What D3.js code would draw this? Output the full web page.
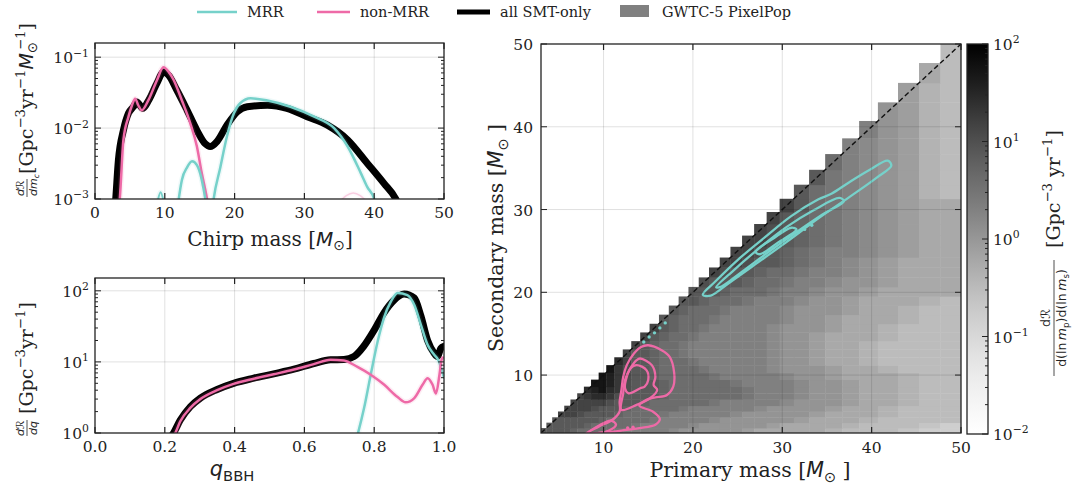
<!DOCTYPE html>
<html>
<head>
<meta charset="utf-8">
<script src="https://cdn.jsdelivr.net/npm/d3@7"></script>
<style>
body { margin: 0; background: #fff; }
text { font-family: "DejaVu Serif", serif; fill: #222; }
</style>
</head>
<body>
<svg></svg>
<script>
// ---------------- data ----------------
// chirp mass spectrum [Mc, dR/dMc]
const chirpAll = [[2.8,0.0006],[2.97,0.001],[3.35,0.0035],[4.07,0.0093],[4.8,0.0162],[5.5,0.020],[5.99,0.0234],[6.85,0.019],[7.67,0.0245],[8.86,0.0427],[9.81,0.0617],[10.5,0.0562],[11.7,0.0347],[13.2,0.0178],[14.6,0.0093],[15.8,0.006],[16.5,0.0055],[17.5,0.0065],[18.9,0.011],[20.4,0.017],[21.8,0.020],[24.7,0.021],[27.5,0.019],[30.4,0.0145],[33.3,0.011],[36.2,0.0068],[39.0,0.0032],[41.4,0.00166],[43.1,0.001],[43.8,0.0007]];
const chirpNon = [[3.4,0.0007],[3.55,0.001],[4.07,0.0068],[4.8,0.0145],[5.3,0.021],[5.75,0.026],[6.2,0.021],[6.7,0.0178],[7.67,0.025],[8.86,0.047],[9.81,0.072],[10.5,0.063],[11.25,0.048],[12.45,0.0245],[13.65,0.0117],[14.6,0.0055],[15.3,0.0023],[16.05,0.001],[16.3,0.0007]];
const chirpNonTail = [[35.0,0.0009],[36.0,0.00112],[37.0,0.00122],[38.0,0.00112],[39.0,0.0009]];
const chirpMrr = [[16.8,0.0007],[17.0,0.001],[17.96,0.0028],[18.9,0.0076],[19.9,0.0162],[20.8,0.0224],[22.3,0.0263],[24.7,0.0245],[28.0,0.020],[31.4,0.0145],[34.25,0.010],[36.2,0.0055],[38.1,0.0023],[39.0,0.00148],[40.0,0.001],[40.3,0.0007]];
const chirpMrrBump = [[11.8,0.0007],[12.0,0.001],[12.45,0.00186],[13.2,0.0028],[13.9,0.0034],[14.6,0.003],[15.3,0.00186],[15.8,0.001],[16.0,0.0007]];
const chirpMrrSpike = [[9.0,0.00095],[9.4,0.00125],[9.8,0.00095]];

// mass-ratio spectrum [q, dR/dq]
const qAll = [[0.215,0.85],[0.225,1.0],[0.244,1.51],[0.273,2.34],[0.302,3.1],[0.35,4.1],[0.397,5.0],[0.455,5.9],[0.512,6.8],[0.57,7.9],[0.627,9.5],[0.675,10.7],[0.713,10.8],[0.742,11.9],[0.77,16.6],[0.80,28],[0.828,49],[0.857,74],[0.886,90],[0.915,79],[0.934,44],[0.953,20],[0.972,13.2],[0.981,11.9],[0.991,15.5],[1.0,16.6]];
const qNon = [[0.22,0.85],[0.23,1.0],[0.244,1.45],[0.273,2.25],[0.302,3.0],[0.35,4.0],[0.397,4.9],[0.455,5.8],[0.512,6.7],[0.57,7.8],[0.627,9.3],[0.675,10.7],[0.713,10.5],[0.752,8.5],[0.79,6.6],[0.828,4.8],[0.867,3.2],[0.89,2.7],[0.915,3.1],[0.939,4.8],[0.953,5.9],[0.967,4.8],[0.977,3.6],[0.987,6.6],[0.993,10.7],[0.997,11.5]];
const qMrr = [[0.745,0.7],[0.752,0.93],[0.771,2.24],[0.79,6.6],[0.81,19.5],[0.828,41.7],[0.848,70.8],[0.867,93],[0.895,87],[0.915,63],[0.934,33],[0.953,17.4],[0.972,12.6],[0.983,10.7],[0.995,7.4],[1.0,6.0]];

// PixelPop heat map: bin edges (Msun) and per-cell level index (row j = m2 bin, first char is m1 bin i = j)
const massEdges = [3.0,3.6,4.25,4.9,5.6,6.3,7.05,7.8,8.6,9.45,10.3,11.2,12.15,13.1,14.1,15.15,16.2,17.3,18.4,19.5,20.65,21.8,23.0,24.2,25.5,26.85,28.25,29.7,31.3,33.0,34.8,36.7,38.6,40.7,42.95,45.3,47.7,50.0];
const levelLog = [-0.80,-0.66,-0.52,-0.38,-0.24,-0.10,0.04,0.18,0.32,0.46,0.60,0.74,0.88,1.02,1.16,1.30,1.44,1.58,1.72];
const heatRows = [
"CCCCCBAAAAA98888876666665444443222100",
"CCCCCCBAAAAA988888766666654444322210",
"CCCCCCCBAAAAA9888887666666544432222",
"EEEDCCCCBAAAA988888876666654443222",
"EEEEDCCCBAAAAA9888888766665443222",
"EEEEEDCCCBAAAAAA9888887666544322",
"EFGGFDCCCCBAAAAAAA9888766544322",
"GHIGFDCCCBAAAAAAA9888766544322",
"IIHFDCCCBAAAAAA98888766544322",
"IHFDCCBAAAAA9888887665444322",
"IFDCCBAAAA98888876665443222",
"GECCBAAA988888876654432222",
"ECCBAA9888888876654432222",
"ECBAA9888888876654432222",
"ECBAA988888876654443222",
"ECBAA98888876665443222",
"CBAAA9888887665444322",
"CBAAA988887666544322",
"CCBAAA9888766544432",
"CCCBAAA98876654444",
"DCCCBAA9887665444",
"EDCCBAA988765444",
"EEDCCBA98765444",
"EEDCBA98876544",
"EEDCBA9876544",
"EDCBA9876544",
"ECBA9876544",
"ECA9876544",
"CA9876532",
"C9876532",
"A876532",
"876532",
"86532",
"6532",
"532",
"42",
"2"
];

// 2D contours [m1, m2]
const mrrOuter = [[21.1,19.7],[22.5,21.3],[25.0,23.9],[28.0,26.6],[31.0,29.2],[34.0,31.2],[35.5,31.9],[37.5,33.3],[39.8,34.8],[41.8,35.9],[42.2,35.3],[40.5,33.8],[37.5,31.5],[34.0,28.9],[30.5,26.1],[27.0,23.4],[24.0,21.1],[22.0,19.6]];
const mrrMid = [[22.6,20.6],[24.5,22.6],[27.5,25.4],[30.5,27.9],[33.5,29.9],[36.4,31.4],[36.9,31.0],[34.5,29.4],[31.5,27.2],[28.5,24.9],[25.5,22.5],[23.2,20.7]];
const mrrInner = [[27.0,24.9],[29.0,26.5],[31.0,27.8],[31.6,27.6],[29.5,26.0],[27.5,24.6]];
const mrrDots = [[31.8,27.3],[32.5,27.6],[33.3,28.1],[14.5,14.0],[15.1,14.6],[15.7,15.1],[16.3,15.7],[16.9,16.3]];
const nonOuter = [[15.0,13.6],[16.5,13.0],[17.4,12.2],[17.9,10.3],[17.8,8.6],[17.1,7.6],[15.8,7.3],[14.8,7.0],[14.0,6.3],[15.5,5.6],[16.3,4.7],[15.8,4.0],[14.0,3.6],[12.0,3.3],[10.0,3.05],[8.0,2.9],[9.5,3.8],[11.0,4.6],[11.8,5.6],[11.8,6.8],[12.0,8.2],[12.2,9.8],[12.6,11.2],[13.4,12.6],[14.2,13.4]];
const nonMid = [[14.1,12.0],[15.4,11.2],[15.8,9.8],[15.6,8.8],[16.0,8.2],[15.2,7.2],[13.7,6.4],[12.0,5.8],[12.2,7.8],[12.4,9.4],[13.0,10.8],[13.7,11.8]];
const nonInner = [[13.7,11.2],[14.8,10.6],[15.0,9.4],[14.6,8.6],[14.1,8.4],[12.8,7.8],[12.4,8.4],[12.6,9.8],[13.0,10.8]];
const nonLow = [[8.3,3.0],[9.5,3.9],[10.8,4.5],[11.4,4.0],[10.6,3.3],[9.5,3.0]];
const nonDots = [[12.7,3.6],[13.3,3.7]];

// tick values
const chirpTicks = [0,10,20,30,40,50];
const qTicks = [0,0.2,0.4,0.6,0.8,1.0];
const massTicks = [10,20,30,40,50];
const chirpDecades = [-3,-2,-1];
const qDecades = [0,1,2];
const cbarDecades = [-2,-1,0,1,2];

// ---------------- setup ----------------
const teal = "#76d1ca", pink = "#ee6aa7";
const svg = d3.select("svg").attr("width", 1075).attr("height", 484);
const defs = svg.append("defs");

const xMc = d3.scaleLinear().domain([0, 50]).range([95, 444]);
const yMc = d3.scaleLog().domain([1e-3, Math.pow(10, -0.8)]).range([199, 43]);
const xQ = d3.scaleLinear().domain([0, 1]).range([95, 444]);
const yQ = d3.scaleLog().domain([1, Math.pow(10, 2.18)]).range([433, 278]);
const xM = d3.scaleLinear().domain([3, 50]).range([541, 961]);
const yM = d3.scaleLinear().domain([3, 50]).range([433, 44]);
const yC = d3.scaleLog().domain([1e-2, 1e2]).range([434, 44]);
const grey = v => d3.interpolateGreys((Math.log10(v) + 2) / 4);

function clip(id, x0, x1, y0, y1) {
  defs.append("clipPath").attr("id", id).append("rect")
    .attr("x", x0).attr("y", y0).attr("width", x1 - x0).attr("height", y1 - y0);
}
clip("cTop", 95, 444, 43, 199);
clip("cBot", 95, 444, 278, 433);
clip("cMap", 541, 961, 44, 433);

// text with super/subscripts
function rich(sel, parts, size) {
  const t = sel.append("text").attr("font-size", size);
  let base = 0;
  parts.forEach(([str, kind, dx]) => {
    const s = t.append("tspan").text(str);
    let off = 0, fs = size;
    if (kind === "sup") { off = -0.42 * size; fs = 0.7 * size; }
    if (kind === "sub" || kind === "subsans") { off = 0.22 * size; fs = 0.7 * size; }
    s.attr("dy", off - base).attr("font-size", fs);
    base = off;
    if (kind === "it" || kind === "subsans") s.style("font-family", "DejaVu Sans");
    if (kind === "it") s.style("font-style", "italic");
    if (dx) s.attr("dx", dx);
  });
  return t;
}

function gridX(g, sc, vals, y0, y1) {
  g.selectAll(null).data(vals).enter().append("line")
    .attr("x1", d => sc(d)).attr("x2", d => sc(d)).attr("y1", y0).attr("y2", y1)
    .attr("stroke", "#000").attr("stroke-opacity", 0.12).attr("stroke-width", 1);
}
function gridY(g, sc, vals, x0, x1) {
  g.selectAll(null).data(vals).enter().append("line")
    .attr("y1", d => sc(d)).attr("y2", d => sc(d)).attr("x1", x0).attr("x2", x1)
    .attr("stroke", "#000").attr("stroke-opacity", 0.12).attr("stroke-width", 1);
}
function ticksX(g, sc, vals, y0, y1, len) {
  vals.forEach(v => {
    g.append("line").attr("x1", sc(v)).attr("x2", sc(v)).attr("y1", y1).attr("y2", y1 - len).attr("stroke", "#222").attr("stroke-width", 1.2);
    g.append("line").attr("x1", sc(v)).attr("x2", sc(v)).attr("y1", y0).attr("y2", y0 + len).attr("stroke", "#222").attr("stroke-width", 1.2);
  });
}
function ticksY(g, sc, vals, x0, x1, len, both = true) {
  vals.forEach(v => {
    g.append("line").attr("y1", sc(v)).attr("y2", sc(v)).attr("x1", x1).attr("x2", x1 - len).attr("stroke", "#222").attr("stroke-width", 1);
    if (both) g.append("line").attr("y1", sc(v)).attr("y2", sc(v)).attr("x1", x0).attr("x2", x0 + len).attr("stroke", "#222").attr("stroke-width", 1);
  });
}
function minorLog(decades, dom) {
  const out = [];
  decades.forEach(e => { for (let k = 2; k <= 9; k++) { const v = k * Math.pow(10, e); if (v > dom[0] && v < dom[1]) out.push(v); } });
  return out;
}
function frame(x0, x1, y0, y1) {
  svg.append("rect").attr("x", x0).attr("y", y0).attr("width", x1 - x0).attr("height", y1 - y0)
    .attr("fill", "none").attr("stroke", "#222").attr("stroke-width", 1.3);
}

const lineMc = d3.line().x(d => xMc(d[0])).y(d => yMc(d[1])).curve(d3.curveMonotoneX);
const lineQ = d3.line().x(d => xQ(d[0])).y(d => yQ(d[1])).curve(d3.curveMonotoneX);
const closedM = d3.line().x(d => xM(d[0])).y(d => yM(d[1])).curve(d3.curveCatmullRomClosed.alpha(0.5));

function curve(g, gen, data, color, w, op = 1, halo = true) {
  if (halo) g.append("path").attr("d", gen(data)).attr("fill", "none").attr("stroke", color)
    .attr("stroke-width", w + 3).attr("stroke-opacity", 0.12 * op).attr("stroke-linejoin", "round");
  g.append("path").attr("d", gen(data)).attr("fill", "none").attr("stroke", color)
    .attr("stroke-width", w).attr("stroke-opacity", op).attr("stroke-linejoin", "round").attr("stroke-linecap", "round");
}

// ---------------- top-left: chirp mass ----------------
const gT = svg.append("g");
gridX(gT, xMc, [10, 20, 30, 40], 43, 199);
gridY(gT, yMc, [1e-2, 1e-1], 95, 444);
const gTc = gT.append("g").attr("clip-path", "url(#cTop)");
curve(gTc, lineMc, chirpAll, "#000", 7, 1, false);
curve(gTc, lineMc, chirpNon, pink, 2.5);
curve(gTc, lineMc, chirpNonTail, pink, 1.5, 0.3);
curve(gTc, lineMc, chirpMrr, teal, 2.5);
curve(gTc, lineMc, chirpMrrBump, teal, 2.5);
curve(gTc, lineMc, chirpMrrSpike, teal, 2);
ticksX(gT, xMc, chirpTicks, 43, 199, 6);
ticksY(gT, yMc, chirpDecades.map(e => Math.pow(10, e)), 95, 444, 6);
ticksY(gT, yMc, minorLog(chirpDecades, yMc.domain()), 95, 444, 3);
frame(95, 444, 43, 199);
chirpTicks.forEach(v => gT.append("text").attr("x", xMc(v)).attr("y", 218).attr("text-anchor", "middle").attr("font-size", 15.5).text(v));
chirpDecades.forEach(e => rich(gT, [["10", ""], ["\u2212" + (-e), "sup"]], 15.5)
  .attr("x", 89).attr("y", yMc(Math.pow(10, e)) + 6).attr("text-anchor", "end"));
rich(gT, [["Chirp mass [", ""], ["M", "it"], ["\u2299", "subsans"], ["]", ""]], 20)
  .attr("x", 270).attr("y", 246).attr("text-anchor", "middle");
const yl1 = svg.append("g").attr("transform", "translate(27,188) rotate(-90)");
yl1.append("text").attr("x", 0).attr("y", -3).attr("text-anchor", "middle").attr("font-size", 11)
  .style("font-family", "DejaVu Sans").style("font-style", "italic").text("d\u211B");
yl1.append("line").attr("x1", -9).attr("x2", 9).attr("y1", 0).attr("y2", 0).attr("stroke", "#222").attr("stroke-width", 0.8);
rich(yl1, [["dm", "it"], ["c", "sub"]], 11).attr("x", -8).attr("y", 10).style("font-style", "italic").style("font-family", "DejaVu Sans");
rich(yl1, [["[Gpc", ""], ["\u22123", "sup"], ["yr", ""], ["\u22121", "sup"], ["M", "it"], ["\u2299", "subsans"], ["\u22121", "sup", -8], ["]", ""]], 19)
  .attr("x", 14).attr("y", 6);

// ---------------- bottom-left: mass ratio ----------------
const gB = svg.append("g");
gridX(gB, xQ, [0.2, 0.4, 0.6, 0.8], 278, 433);
gridY(gB, yQ, [10, 100], 95, 444);
const gBc = gB.append("g").attr("clip-path", "url(#cBot)");
curve(gBc, lineQ, qAll, "#000", 7, 1, false);
curve(gBc, lineQ, qMrr, teal, 2.5);
curve(gBc, lineQ, qNon, pink, 2.5);
ticksX(gB, xQ, qTicks, 278, 433, 6);
ticksY(gB, yQ, qDecades.map(e => Math.pow(10, e)), 95, 444, 6);
ticksY(gB, yQ, minorLog(qDecades, yQ.domain()), 95, 444, 3);
frame(95, 444, 278, 433);
qTicks.forEach(v => gB.append("text").attr("x", xQ(v)).attr("y", 452).attr("text-anchor", "middle").attr("font-size", 15.5).text(v.toFixed(1)));
qDecades.forEach(e => rich(gB, [["10", ""], [String(e), "sup"]], 15.5)
  .attr("x", 89).attr("y", yQ(Math.pow(10, e)) + 6).attr("text-anchor", "end"));
rich(gB, [["q", "it"], ["BBH", "subsans"]], 21).attr("x", 232).attr("y", 476).attr("text-anchor", "middle");
const yl2 = svg.append("g").attr("transform", "translate(27,428) rotate(-90)");
yl2.append("text").attr("x", 0).attr("y", -3).attr("text-anchor", "middle").attr("font-size", 11)
  .style("font-family", "DejaVu Sans").style("font-style", "italic").text("d\u211B");
yl2.append("line").attr("x1", -8).attr("x2", 8).attr("y1", 0).attr("y2", 0).attr("stroke", "#222").attr("stroke-width", 0.8);
yl2.append("text").attr("x", 0).attr("y", 10).attr("text-anchor", "middle").attr("font-size", 11)
  .style("font-family", "DejaVu Sans").style("font-style", "italic").text("dq");
rich(yl2, [["[Gpc", ""], ["\u22123", "sup"], ["yr", ""], ["\u22121", "sup"], ["]", ""]], 19).attr("x", 14).attr("y", 6);

// ---------------- right: 2D PixelPop map ----------------
const gM = svg.append("g");
const gMc = gM.append("g").attr("clip-path", "url(#cMap)");
heatRows.forEach((row, j) => {
  [...row].forEach((c, k) => {
    const i = j + k;
    if (i >= massEdges.length - 1) return;
    const v = Math.pow(10, levelLog[parseInt(c, 36)]);
    gMc.append("rect")
      .attr("x", xM(massEdges[i])).attr("y", yM(massEdges[j + 1]))
      .attr("width", xM(massEdges[i + 1]) - xM(massEdges[i]) + 0.4)
      .attr("height", yM(massEdges[j]) - yM(massEdges[j + 1]) + 0.4)
      .attr("fill", grey(v));
  });
});
gridX(gM, xM, [10, 20, 30, 40], 44, 433);
gridY(gM, yM, [10, 20, 30, 40], 541, 961);
gMc.append("line").attr("x1", xM(3)).attr("y1", yM(3)).attr("x2", xM(50)).attr("y2", yM(50))
  .attr("stroke", "#111").attr("stroke-width", 1.4).attr("stroke-dasharray", "5,3");
[mrrOuter, mrrMid, mrrInner].forEach(c => gMc.append("path").attr("d", closedM(c)).attr("fill", "none").attr("stroke", teal).attr("stroke-width", 2.3));
[nonOuter, nonMid, nonInner, nonLow].forEach(c => gMc.append("path").attr("d", closedM(c)).attr("fill", "none").attr("stroke", pink).attr("stroke-width", 2.3));
gMc.selectAll(null).data(mrrDots).enter().append("circle").attr("cx", d => xM(d[0])).attr("cy", d => yM(d[1])).attr("r", 1.7).attr("fill", teal);
gMc.selectAll(null).data(nonDots).enter().append("circle").attr("cx", d => xM(d[0])).attr("cy", d => yM(d[1])).attr("r", 1.7).attr("fill", pink);
ticksX(gM, xM, massTicks, 44, 433, 6);
ticksY(gM, yM, massTicks, 541, 961, 6);
frame(541, 961, 44, 433);
massTicks.forEach(v => gM.append("text").attr("x", xM(v)).attr("y", 453).attr("text-anchor", "middle").attr("font-size", 15.5).text(v));
massTicks.forEach(v => gM.append("text").attr("x", 533).attr("y", yM(v) + 6).attr("text-anchor", "end").attr("font-size", 15.5).text(v));
rich(gM, [["Primary mass [", ""], ["M", "it"], ["\u2299", "subsans"], [" ]", ""]], 20.5).attr("x", 750).attr("y", 477).attr("text-anchor", "middle");
rich(gM.append("g").attr("transform", "translate(503,238) rotate(-90)"),
  [["Secondary mass [", ""], ["M", "it"], ["\u2299", "subsans"], [" ]", ""]], 20.5).attr("text-anchor", "middle");

// ---------------- colorbar ----------------
const grad = defs.append("linearGradient").attr("id", "cgrad").attr("x1", 0).attr("y1", 1).attr("x2", 0).attr("y2", 0);
d3.range(0, 1.0001, 0.05).forEach(t => grad.append("stop").attr("offset", t).attr("stop-color", d3.interpolateGreys(t)));
svg.append("rect").attr("x", 967).attr("y", 44).attr("width", 21).attr("height", 390).attr("fill", "url(#cgrad)");
const gC = svg.append("g");
ticksY(gC, yC, cbarDecades.map(e => Math.pow(10, e)), 967, 988, 6, false);
ticksY(gC, yC, minorLog(cbarDecades, yC.domain()), 967, 988, 3, false);
frame(967, 988, 44, 434);
cbarDecades.forEach(e => rich(gC, [["10", ""], [(e < 0 ? "\u2212" + (-e) : String(e)), "sup"]], 15.5)
  .attr("x", 993).attr("y", yC(Math.pow(10, e)) + 6));
const cl = svg.append("g").attr("transform", "translate(1054,318) rotate(-90)");
cl.append("text").attr("x", 0).attr("y", -4).attr("text-anchor", "middle").attr("font-size", 12.5)
  .style("font-family", "DejaVu Sans").text("d\u211B");
cl.append("line").attr("x1", -58).attr("x2", 58).attr("y1", 0).attr("y2", 0).attr("stroke", "#222").attr("stroke-width", 0.8);
rich(cl, [["d(ln\u2009", ""], ["m", "it"], ["p", "sub"], [")d(ln\u2009", ""], ["m", "it"], ["s", "sub"], [")", ""]], 12.5)
  .attr("x", 0).attr("y", 12).attr("text-anchor", "middle").style("font-family", "DejaVu Sans");
rich(cl, [["[Gpc", ""], ["\u22123", "sup"], [" yr", ""], ["\u22121", "sup"], ["]", ""]], 19).attr("x", 70).attr("y", 6);

// ---------------- legend ----------------
const gL = svg.append("g").attr("font-size", 14.5);
gL.append("line").attr("x1", 197).attr("x2", 237).attr("y1", 12).attr("y2", 12).attr("stroke", teal).attr("stroke-width", 2.5);
gL.append("text").attr("x", 247).attr("y", 17).text("MRR");
gL.append("line").attr("x1", 317).attr("x2", 350).attr("y1", 12).attr("y2", 12).attr("stroke", pink).attr("stroke-width", 2.5);
gL.append("text").attr("x", 360).attr("y", 17).text("non-MRR");
gL.append("line").attr("x1", 457).attr("x2", 490).attr("y1", 12).attr("y2", 12).attr("stroke", "#000").attr("stroke-width", 5);
gL.append("text").attr("x", 500).attr("y", 17).text("all SMT-only");
gL.append("rect").attr("x", 620).attr("y", 5).attr("width", 29).attr("height", 12).attr("fill", "#808080");
gL.append("text").attr("x", 662).attr("y", 17).text("GWTC-5 PixelPop");
</script>
</body>
</html>
